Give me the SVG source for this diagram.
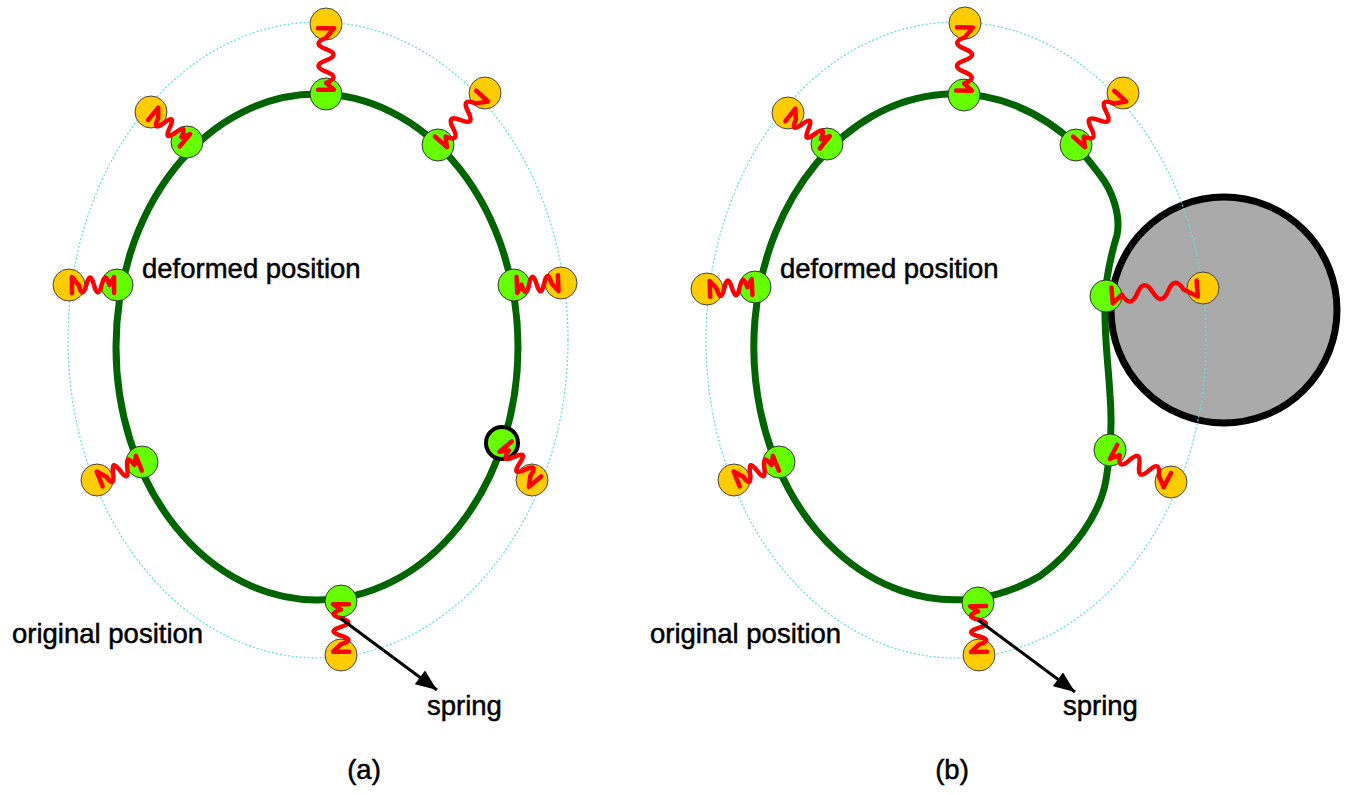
<svg xmlns="http://www.w3.org/2000/svg" xmlns:xlink="http://www.w3.org/1999/xlink" width="1350" height="795" viewBox="0 0 1350 795">
<style>
.orig{fill:none;stroke:#5fe0e0;stroke-width:1.2;stroke-dasharray:2 2}
.def{fill:none;stroke:#006400;stroke-width:7;stroke-linejoin:round}
.g{fill:#66ff00;stroke:#333;stroke-width:1}
.y{fill:#ffcc00;stroke:#444;stroke-width:1}
.spr{fill:none;stroke:#ff0000;stroke-width:4.5;stroke-linejoin:round;stroke-linecap:round;vector-effect:non-scaling-stroke}
.lbl{font-family:"Liberation Sans",Arial,sans-serif;font-size:27.5px;fill:#000;stroke:#000;stroke-width:0.5}
.arr{stroke:#000;stroke-width:3;fill:none}
</style>
<defs>
<path id="spr" class="spr" d="M6,8 L6,-8 L20,0 Q28,15 36,0 Q44,-15 52,0 Q60,15 68,0 Q76,-15 84,0 L94,-8 L94,8"/>
<marker id="ah" viewBox="0 0 10 8" refX="10" refY="4" markerWidth="22" markerHeight="17" markerUnits="userSpaceOnUse" orient="auto">
<path d="M0,0 L10,4 L0,8 z" fill="#000"/>
</marker>
</defs>
<rect width="1350" height="795" fill="#fff"/>

<!-- panel (a) -->
<g id="panel-a">
<ellipse id="orig-a" class="orig" cx="318" cy="340" rx="250" ry="318"/>
<ellipse id="def-a" class="def" cx="317" cy="347" rx="201" ry="253"/>
<g id="node-a1"><circle class="y" cx="326" cy="24" r="16"/><circle class="g" cx="326" cy="94" r="16"/></g>
<g id="node-a2"><circle class="y" cx="151" cy="112" r="16"/><circle class="g" cx="187" cy="142" r="16"/></g>
<g id="node-a3"><circle class="y" cx="485" cy="93" r="16"/><circle class="g" cx="438" cy="145" r="16"/></g>
<g id="node-a4"><circle class="y" cx="69" cy="285" r="16"/><circle class="g" cx="117" cy="285" r="16"/></g>
<g id="node-a5"><circle class="y" cx="561" cy="283" r="16"/><circle class="g" cx="514" cy="285" r="16"/></g>
<g id="node-a6"><circle class="y" cx="97" cy="480" r="16"/><circle class="g" cx="142" cy="462" r="16"/></g>
<g id="node-a7"><circle class="y" cx="532" cy="480" r="16"/><circle class="g" cx="502" cy="443" r="16" style="stroke:#000;stroke-width:4"/></g>
<g id="node-a8"><circle class="y" cx="341" cy="655" r="16"/><circle class="g" cx="341" cy="601" r="16"/></g>
<text class="lbl" x="142" y="278">deformed position</text>
<text class="lbl" x="12" y="643">original position</text>
<text class="lbl" x="427" y="715">spring</text>
<text class="lbl" x="364" y="779" text-anchor="middle">(a)</text>
</g>

<!-- panel (b) -->
<g id="panel-b">
<g id="obstacle"><circle cx="1224" cy="310" r="113" fill="#aaaaaa" stroke="#000" stroke-width="7"/></g>
<ellipse id="orig-b" class="orig" cx="956" cy="340" rx="250" ry="318"/>
<path id="def-b" class="def" d="M1076,145 A201,253 0 1 0 1040,576 C1072,553 1100,515 1106,480 C1111,450 1112,420 1110,395 C1108,360 1104,335 1105,300 C1106,275 1111,255 1117,235 C1121,215 1112,190 1100,175 C1090,162 1082,152 1076,145 Z"/>
<g id="node-b1"><circle class="y" cx="965" cy="23" r="16"/><circle class="g" cx="964" cy="95" r="16"/></g>
<g id="node-b2"><circle class="y" cx="788" cy="113" r="16"/><circle class="g" cx="827" cy="144" r="16"/></g>
<g id="node-b3"><circle class="y" cx="1123" cy="93" r="16"/><circle class="g" cx="1076" cy="145" r="16"/></g>
<g id="node-b4"><circle class="y" cx="707" cy="289" r="16"/><circle class="g" cx="755" cy="287" r="16"/></g>
<g id="node-b5"><circle class="y" cx="1203" cy="288" r="16"/><circle class="g" cx="1106" cy="296" r="16"/></g>
<g id="node-b6"><circle class="y" cx="734" cy="480" r="16"/><circle class="g" cx="779" cy="462" r="16"/></g>
<g id="node-b7"><circle class="y" cx="1171" cy="482" r="16"/><circle class="g" cx="1110" cy="450" r="16"/></g>
<g id="node-b8"><circle class="y" cx="979" cy="655" r="16"/><circle class="g" cx="978" cy="603" r="16"/></g>
<text class="lbl" x="780" y="278">deformed position</text>
<text class="lbl" x="650" y="643">original position</text>
<text class="lbl" x="1063" y="715">spring</text>
<text class="lbl" x="952" y="779" text-anchor="middle">(b)</text>
</g>

<!-- connectors: springs and pointer arrows -->
<g id="connectors">
<use xlink:href="#spr" transform="translate(326,24) rotate(90) scale(0.70,1)"/>
<use xlink:href="#spr" transform="translate(151,112) rotate(39.8) scale(0.47,1)"/>
<use xlink:href="#spr" transform="translate(485,93) rotate(132.1) scale(0.70,1)"/>
<use xlink:href="#spr" transform="translate(69,285) rotate(0) scale(0.48,1)"/>
<use xlink:href="#spr" transform="translate(561,283) rotate(177.6) scale(0.47,1)"/>
<use xlink:href="#spr" transform="translate(97,480) rotate(-21.8) scale(0.48,1)"/>
<use xlink:href="#spr" transform="translate(537,484) rotate(-130) scale(0.52,1)"/>
<use xlink:href="#spr" transform="translate(341,655) rotate(-90) scale(0.54,1)"/>

<use xlink:href="#spr" transform="translate(965,23) rotate(90.8) scale(0.72,1)"/>
<use xlink:href="#spr" transform="translate(788,113) rotate(38.5) scale(0.50,1)"/>
<use xlink:href="#spr" transform="translate(1123,93) rotate(132) scale(0.70,1)"/>
<use xlink:href="#spr" transform="translate(707,289) rotate(-2.4) scale(0.48,1)"/>
<use xlink:href="#spr" transform="translate(1203,288) rotate(175.3) scale(0.97,1)"/>
<use xlink:href="#spr" transform="translate(734,480) rotate(-21.8) scale(0.48,1)"/>
<use xlink:href="#spr" transform="translate(1171,482) rotate(-152.3) scale(0.69,1)"/>
<use xlink:href="#spr" transform="translate(979,655) rotate(-91) scale(0.52,1)"/>

<line class="arr" x1="340" y1="618" x2="437" y2="690" marker-end="url(#ah)"/>
<line class="arr" x1="978" y1="620" x2="1075" y2="692" marker-end="url(#ah)"/>
</g>
</svg>
